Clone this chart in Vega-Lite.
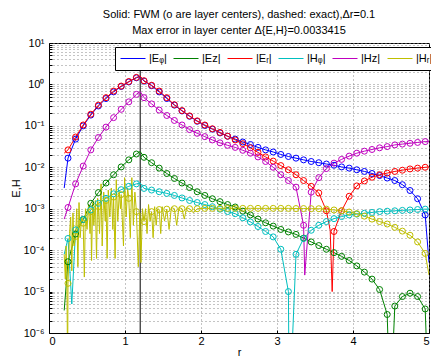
{
"$schema":"https://vega.github.io/schema/vega-lite/v6.json",
"width":380,"height":290,
"autosize":{"type":"none"},
"padding":{"left":49,"top":43,"right":2,"bottom":24},
"title":{"text":["Solid: FWM (o are layer centers), dashed: exact),Δr=0.1","Max error in layer center Δ{E,H}=0.0033415"],"fontSize":11,"fontWeight":"normal","font":"Liberation Sans","color":"black","anchor":"middle","offset":1,"lineHeight":16},
"data":{"values":[
{"s":"Ep","r":0.2,"v":3.16e-3},{"s":"Ep","r":0.25,"v":1.66e-2,"c":1},{"s":"Ep","r":0.35,"v":4.79e-2,"c":1},{"s":"Ep","r":0.45,"v":1.0e-1,"c":1},{"s":"Ep","r":0.55,"v":1.82e-1,"c":1},{"s":"Ep","r":0.65,"v":3.02e-1,"c":1},{"s":"Ep","r":0.75,"v":4.57e-1,"c":1},{"s":"Ep","r":0.85,"v":6.61e-1,"c":1},{"s":"Ep","r":0.95,"v":8.91e-1,"c":1},{"s":"Ep","r":1.05,"v":1.148,"c":1},{"s":"Ep","r":1.15,"v":1.445,"c":1},{"s":"Ep","r":1.2,"v":1.549},{"s":"Ep","r":1.25,"v":1.202,"c":1},{"s":"Ep","r":1.35,"v":0.933,"c":1},{"s":"Ep","r":1.45,"v":0.661,"c":1},{"s":"Ep","r":1.55,"v":0.457,"c":1},{"s":"Ep","r":1.65,"v":0.316,"c":1},{"s":"Ep","r":1.75,"v":0.229,"c":1},{"s":"Ep","r":1.85,"v":0.170,"c":1},{"s":"Ep","r":1.95,"v":0.129,"c":1},{"s":"Ep","r":2.05,"v":0.102,"c":1},{"s":"Ep","r":2.15,"v":8.32e-2,"c":1},{"s":"Ep","r":2.25,"v":6.76e-2,"c":1},{"s":"Ep","r":2.35,"v":5.62e-2,"c":1},{"s":"Ep","r":2.45,"v":4.79e-2,"c":1},{"s":"Ep","r":2.55,"v":4.07e-2,"c":1},{"s":"Ep","r":2.65,"v":3.55e-2,"c":1},{"s":"Ep","r":2.75,"v":3.02e-2,"c":1},{"s":"Ep","r":2.85,"v":2.63e-2,"c":1},{"s":"Ep","r":2.95,"v":2.34e-2,"c":1},{"s":"Ep","r":3.05,"v":2.04e-2,"c":1},{"s":"Ep","r":3.15,"v":1.82e-2,"c":1},{"s":"Ep","r":3.25,"v":1.66e-2,"c":1},{"s":"Ep","r":3.35,"v":1.51e-2,"c":1},{"s":"Ep","r":3.45,"v":1.38e-2,"c":1},{"s":"Ep","r":3.55,"v":1.29e-2,"c":1},{"s":"Ep","r":3.65,"v":1.20e-2,"c":1},{"s":"Ep","r":3.75,"v":1.12e-2,"c":1},{"s":"Ep","r":3.85,"v":1.02e-2,"c":1},{"s":"Ep","r":3.95,"v":9.55e-3,"c":1},{"s":"Ep","r":4.05,"v":8.71e-3,"c":1},{"s":"Ep","r":4.15,"v":7.94e-3,"c":1},{"s":"Ep","r":4.25,"v":7.08e-3,"c":1},{"s":"Ep","r":4.35,"v":6.31e-3,"c":1},{"s":"Ep","r":4.45,"v":5.50e-3,"c":1},{"s":"Ep","r":4.55,"v":4.79e-3,"c":1},{"s":"Ep","r":4.65,"v":3.80e-3,"c":1},{"s":"Ep","r":4.75,"v":2.75e-3,"c":1},{"s":"Ep","r":4.85,"v":1.74e-3,"c":1},{"s":"Ep","r":4.95,"v":7.08e-4,"c":1},{"s":"Ep","r":5.0,"v":5.01e-5},
{"s":"Ez","r":0.2,"v":3.5e-6},{"s":"Ez","r":0.25,"v":5.25e-5,"c":1},{"s":"Ez","r":0.35,"v":2.45e-4,"c":1},{"s":"Ez","r":0.45,"v":5.50e-4,"c":1},{"s":"Ez","r":0.55,"v":1.35e-3,"c":1},{"s":"Ez","r":0.65,"v":2.45e-3,"c":1},{"s":"Ez","r":0.75,"v":4.17e-3,"c":1},{"s":"Ez","r":0.85,"v":6.61e-3,"c":1},{"s":"Ez","r":0.95,"v":1.02e-2,"c":1},{"s":"Ez","r":1.05,"v":1.51e-2,"c":1},{"s":"Ez","r":1.15,"v":2.09e-2,"c":1},{"s":"Ez","r":1.2,"v":2.40e-2},{"s":"Ez","r":1.25,"v":1.74e-2,"c":1},{"s":"Ez","r":1.35,"v":1.29e-2,"c":1},{"s":"Ez","r":1.45,"v":9.55e-3,"c":1},{"s":"Ez","r":1.55,"v":7.08e-3,"c":1},{"s":"Ez","r":1.65,"v":5.37e-3,"c":1},{"s":"Ez","r":1.75,"v":4.17e-3,"c":1},{"s":"Ez","r":1.85,"v":3.24e-3,"c":1},{"s":"Ez","r":1.95,"v":2.57e-3,"c":1},{"s":"Ez","r":2.05,"v":2.09e-3,"c":1},{"s":"Ez","r":2.15,"v":1.74e-3,"c":1},{"s":"Ez","r":2.25,"v":1.48e-3,"c":1},{"s":"Ez","r":2.35,"v":1.26e-3,"c":1},{"s":"Ez","r":2.45,"v":1.10e-3,"c":1},{"s":"Ez","r":2.55,"v":8.71e-4,"c":1},{"s":"Ez","r":2.65,"v":7.08e-4,"c":1},{"s":"Ez","r":2.75,"v":5.62e-4,"c":1},{"s":"Ez","r":2.85,"v":4.57e-4,"c":1},{"s":"Ez","r":2.95,"v":3.80e-4,"c":1},{"s":"Ez","r":3.05,"v":3.16e-4,"c":1},{"s":"Ez","r":3.15,"v":2.75e-4,"c":1},{"s":"Ez","r":3.25,"v":2.40e-4,"c":1},{"s":"Ez","r":3.35,"v":1.95e-4,"c":1},{"s":"Ez","r":3.45,"v":1.58e-4,"c":1},{"s":"Ez","r":3.55,"v":1.29e-4,"c":1},{"s":"Ez","r":3.65,"v":1.05e-4,"c":1},{"s":"Ez","r":3.75,"v":8.71e-5,"c":1},{"s":"Ez","r":3.85,"v":7.08e-5,"c":1},{"s":"Ez","r":3.95,"v":5.62e-5,"c":1},{"s":"Ez","r":4.05,"v":4.17e-5,"c":1},{"s":"Ez","r":4.15,"v":2.95e-5,"c":1},{"s":"Ez","r":4.25,"v":2.00e-5,"c":1},{"s":"Ez","r":4.35,"v":1.12e-5,"c":1},{"s":"Ez","r":4.45,"v":2.8e-6,"c":1},{"s":"Ez","r":4.49,"v":1e-8},{"s":"Ez","r":4.55,"v":4.47e-6,"c":1},{"s":"Ez","r":4.65,"v":7.59e-6,"c":1},{"s":"Ez","r":4.75,"v":9.12e-6,"c":1},{"s":"Ez","r":4.85,"v":7.59e-6,"c":1},{"s":"Ez","r":4.95,"v":3.80e-6,"c":1},{"s":"Ez","r":5.0,"v":1e-8},
{"s":"Er","r":0.2,"v":2.19e-2},{"s":"Er","r":0.25,"v":2.63e-2,"c":1},{"s":"Er","r":0.35,"v":5.37e-2,"c":1},{"s":"Er","r":0.45,"v":1.05e-1,"c":1},{"s":"Er","r":0.55,"v":1.91e-1,"c":1},{"s":"Er","r":0.65,"v":3.16e-1,"c":1},{"s":"Er","r":0.75,"v":4.79e-1,"c":1},{"s":"Er","r":0.85,"v":6.92e-1,"c":1},{"s":"Er","r":0.95,"v":9.12e-1,"c":1},{"s":"Er","r":1.05,"v":1.175,"c":1},{"s":"Er","r":1.15,"v":1.479,"c":1},{"s":"Er","r":1.2,"v":1.585},{"s":"Er","r":1.25,"v":1.230,"c":1},{"s":"Er","r":1.35,"v":0.955,"c":1},{"s":"Er","r":1.45,"v":0.692,"c":1},{"s":"Er","r":1.55,"v":0.479,"c":1},{"s":"Er","r":1.65,"v":0.324,"c":1},{"s":"Er","r":1.75,"v":0.234,"c":1},{"s":"Er","r":1.85,"v":0.174,"c":1},{"s":"Er","r":1.95,"v":0.132,"c":1},{"s":"Er","r":2.05,"v":0.105,"c":1},{"s":"Er","r":2.15,"v":8.51e-2,"c":1},{"s":"Er","r":2.25,"v":6.92e-2,"c":1},{"s":"Er","r":2.35,"v":5.62e-2,"c":1},{"s":"Er","r":2.45,"v":4.57e-2,"c":1},{"s":"Er","r":2.55,"v":3.72e-2,"c":1},{"s":"Er","r":2.65,"v":2.95e-2,"c":1},{"s":"Er","r":2.75,"v":2.29e-2,"c":1},{"s":"Er","r":2.85,"v":1.78e-2,"c":1},{"s":"Er","r":2.95,"v":1.41e-2,"c":1},{"s":"Er","r":3.05,"v":1.10e-2,"c":1},{"s":"Er","r":3.15,"v":8.71e-3,"c":1},{"s":"Er","r":3.25,"v":6.61e-3,"c":1},{"s":"Er","r":3.35,"v":4.79e-3,"c":1},{"s":"Er","r":3.45,"v":3.47e-3,"c":1},{"s":"Er","r":3.55,"v":2.40e-3,"c":1},{"s":"Er","r":3.65,"v":8.91e-4,"c":1},{"s":"Er","r":3.7,"v":3.0e-4},{"s":"Er","r":3.726,"v":1.0e-5},{"s":"Er","r":3.75,"v":2.82e-4,"c":1},{"s":"Er","r":3.85,"v":8.91e-4,"c":1},{"s":"Er","r":3.95,"v":2.00e-3,"c":1},{"s":"Er","r":4.05,"v":3.55e-3,"c":1},{"s":"Er","r":4.15,"v":4.68e-3,"c":1},{"s":"Er","r":4.25,"v":5.75e-3,"c":1},{"s":"Er","r":4.35,"v":6.61e-3,"c":1},{"s":"Er","r":4.45,"v":7.24e-3,"c":1},{"s":"Er","r":4.55,"v":7.94e-3,"c":1},{"s":"Er","r":4.65,"v":8.51e-3,"c":1},{"s":"Er","r":4.75,"v":9.12e-3,"c":1},{"s":"Er","r":4.85,"v":9.55e-3,"c":1},{"s":"Er","r":4.95,"v":1.00e-2,"c":1},{"s":"Er","r":5.0,"v":1.02e-2},
{"s":"Hp","r":0.2,"v":7.94e-5},{"s":"Hp","r":0.25,"v":1.91e-4,"c":1},{"s":"Hp","r":0.3,"v":5.01e-6},{"s":"Hp","r":0.35,"v":3.09e-4,"c":1},{"s":"Hp","r":0.45,"v":5.50e-4,"c":1},{"s":"Hp","r":0.55,"v":9.33e-4,"c":1},{"s":"Hp","r":0.65,"v":1.35e-3,"c":1},{"s":"Hp","r":0.75,"v":1.78e-3,"c":1},{"s":"Hp","r":0.85,"v":2.29e-3,"c":1},{"s":"Hp","r":0.95,"v":2.88e-3,"c":1},{"s":"Hp","r":1.05,"v":3.47e-3,"c":1},{"s":"Hp","r":1.15,"v":3.98e-3,"c":1},{"s":"Hp","r":1.2,"v":4.17e-3},{"s":"Hp","r":1.25,"v":3.09e-3,"c":1},{"s":"Hp","r":1.35,"v":2.82e-3,"c":1},{"s":"Hp","r":1.45,"v":2.57e-3,"c":1},{"s":"Hp","r":1.55,"v":2.34e-3,"c":1},{"s":"Hp","r":1.65,"v":2.09e-3,"c":1},{"s":"Hp","r":1.75,"v":1.82e-3,"c":1},{"s":"Hp","r":1.85,"v":1.58e-3,"c":1},{"s":"Hp","r":1.95,"v":1.41e-3,"c":1},{"s":"Hp","r":2.05,"v":1.26e-3,"c":1},{"s":"Hp","r":2.15,"v":1.12e-3,"c":1},{"s":"Hp","r":2.25,"v":9.77e-4,"c":1},{"s":"Hp","r":2.35,"v":8.51e-4,"c":1},{"s":"Hp","r":2.45,"v":7.59e-4,"c":1},{"s":"Hp","r":2.55,"v":6.03e-4,"c":1},{"s":"Hp","r":2.65,"v":4.79e-4,"c":1},{"s":"Hp","r":2.75,"v":3.72e-4,"c":1},{"s":"Hp","r":2.85,"v":2.82e-4,"c":1},{"s":"Hp","r":2.95,"v":2.09e-4,"c":1},{"s":"Hp","r":3.05,"v":1.05e-4,"c":1},{"s":"Hp","r":3.15,"v":1.0e-5,"c":1},{"s":"Hp","r":3.162,"v":1e-8},{"s":"Hp","r":3.25,"v":7.94e-5,"c":1},{"s":"Hp","r":3.35,"v":1.91e-4,"c":1},{"s":"Hp","r":3.45,"v":3.02e-4,"c":1},{"s":"Hp","r":3.55,"v":3.98e-4,"c":1},{"s":"Hp","r":3.65,"v":4.90e-4,"c":1},{"s":"Hp","r":3.75,"v":5.75e-4,"c":1},{"s":"Hp","r":3.85,"v":6.46e-4,"c":1},{"s":"Hp","r":3.95,"v":7.08e-4,"c":1},{"s":"Hp","r":4.05,"v":7.41e-4,"c":1},{"s":"Hp","r":4.15,"v":7.76e-4,"c":1},{"s":"Hp","r":4.25,"v":8.13e-4,"c":1},{"s":"Hp","r":4.35,"v":8.51e-4,"c":1},{"s":"Hp","r":4.45,"v":8.71e-4,"c":1},{"s":"Hp","r":4.55,"v":8.91e-4,"c":1},{"s":"Hp","r":4.65,"v":9.12e-4,"c":1},{"s":"Hp","r":4.75,"v":9.33e-4,"c":1},{"s":"Hp","r":4.85,"v":9.55e-4,"c":1},{"s":"Hp","r":4.95,"v":9.77e-4,"c":1},{"s":"Hp","r":5.0,"v":9.77e-4},
{"s":"Hz","r":0.2,"v":5.62e-4},{"s":"Hz","r":0.25,"v":1.07e-3,"c":1},{"s":"Hz","r":0.35,"v":3.98e-3,"c":1},{"s":"Hz","r":0.45,"v":1.07e-2,"c":1},{"s":"Hz","r":0.55,"v":2.63e-2,"c":1},{"s":"Hz","r":0.65,"v":5.25e-2,"c":1},{"s":"Hz","r":0.75,"v":9.33e-2,"c":1},{"s":"Hz","r":0.85,"v":1.58e-1,"c":1},{"s":"Hz","r":0.95,"v":2.51e-1,"c":1},{"s":"Hz","r":1.05,"v":3.80e-1,"c":1},{"s":"Hz","r":1.15,"v":5.75e-1,"c":1},{"s":"Hz","r":1.2,"v":6.76e-1},{"s":"Hz","r":1.25,"v":4.79e-1,"c":1},{"s":"Hz","r":1.35,"v":3.39e-1,"c":1},{"s":"Hz","r":1.45,"v":2.40e-1,"c":1},{"s":"Hz","r":1.55,"v":1.78e-1,"c":1},{"s":"Hz","r":1.65,"v":1.35e-1,"c":1},{"s":"Hz","r":1.75,"v":1.05e-1,"c":1},{"s":"Hz","r":1.85,"v":8.13e-2,"c":1},{"s":"Hz","r":1.95,"v":6.61e-2,"c":1},{"s":"Hz","r":2.05,"v":5.50e-2,"c":1},{"s":"Hz","r":2.15,"v":4.57e-2,"c":1},{"s":"Hz","r":2.25,"v":3.89e-2,"c":1},{"s":"Hz","r":2.35,"v":3.39e-2,"c":1},{"s":"Hz","r":2.45,"v":3.02e-2,"c":1},{"s":"Hz","r":2.55,"v":2.57e-2,"c":1},{"s":"Hz","r":2.65,"v":2.19e-2,"c":1},{"s":"Hz","r":2.75,"v":1.78e-2,"c":1},{"s":"Hz","r":2.85,"v":1.38e-2,"c":1},{"s":"Hz","r":2.95,"v":1.00e-2,"c":1},{"s":"Hz","r":3.05,"v":6.61e-3,"c":1},{"s":"Hz","r":3.15,"v":4.79e-3,"c":1},{"s":"Hz","r":3.25,"v":3.31e-3,"c":1},{"s":"Hz","r":3.35,"v":3.98e-4,"c":1},{"s":"Hz","r":3.365,"v":2.5e-5},{"s":"Hz","r":3.45,"v":2.51e-3,"c":1},{"s":"Hz","r":3.55,"v":5.62e-3,"c":1},{"s":"Hz","r":3.65,"v":9.33e-3,"c":1},{"s":"Hz","r":3.75,"v":1.26e-2,"c":1},{"s":"Hz","r":3.85,"v":1.55e-2,"c":1},{"s":"Hz","r":3.95,"v":1.86e-2,"c":1},{"s":"Hz","r":4.05,"v":2.19e-2,"c":1},{"s":"Hz","r":4.15,"v":2.45e-2,"c":1},{"s":"Hz","r":4.25,"v":2.69e-2,"c":1},{"s":"Hz","r":4.35,"v":2.95e-2,"c":1},{"s":"Hz","r":4.45,"v":3.16e-2,"c":1},{"s":"Hz","r":4.55,"v":3.47e-2,"c":1},{"s":"Hz","r":4.65,"v":3.63e-2,"c":1},{"s":"Hz","r":4.75,"v":3.80e-2,"c":1},{"s":"Hz","r":4.85,"v":3.98e-2,"c":1},{"s":"Hz","r":4.95,"v":4.17e-2,"c":1},{"s":"Hz","r":5.0,"v":4.27e-2},
{"s":"Hr","r":0.2,"v":7.94e-5},{"s":"Hr","r":0.215,"v":2.0e-5},{"s":"Hr","r":0.225,"v":1.26e-4},{"s":"Hr","r":0.235,"v":2.51e-5},{"s":"Hr","r":0.245,"v":1e-7},{"s":"Hr","r":0.25,"v":1.58e-5,"c":1},{"s":"Hr","r":0.27,"v":2.51e-4},{"s":"Hr","r":0.285,"v":6.31e-4},{"s":"Hr","r":0.3,"v":3.16e-5},{"s":"Hr","r":0.315,"v":7.94e-4},{"s":"Hr","r":0.33,"v":1.26e-4},{"s":"Hr","r":0.35,"v":2.14e-4,"c":1},{"s":"Hr","r":0.365,"v":1.0e-3},{"s":"Hr","r":0.38,"v":3.98e-5},{"s":"Hr","r":0.395,"v":1.41e-3},{"s":"Hr","r":0.41,"v":2.0e-4},{"s":"Hr","r":0.43,"v":6.31e-4},{"s":"Hr","r":0.45,"v":4.47e-4,"c":1},{"s":"Hr","r":0.465,"v":2.24e-5},{"s":"Hr","r":0.48,"v":1.0e-3},{"s":"Hr","r":0.5,"v":3.16e-4},{"s":"Hr","r":0.52,"v":1.26e-3},{"s":"Hr","r":0.54,"v":2.51e-4},{"s":"Hr","r":0.55,"v":8.51e-4,"c":1},{"s":"Hr","r":0.56,"v":5.62e-5},{"s":"Hr","r":0.575,"v":1.41e-3},{"s":"Hr","r":0.59,"v":3.98e-4},{"s":"Hr","r":0.61,"v":1.58e-3},{"s":"Hr","r":0.625,"v":6.31e-5},{"s":"Hr","r":0.64,"v":1.78e-3},{"s":"Hr","r":0.65,"v":1.12e-3,"c":1},{"s":"Hr","r":0.665,"v":2.51e-4},{"s":"Hr","r":0.685,"v":3.98e-3},{"s":"Hr","r":0.7,"v":1.26e-4},{"s":"Hr","r":0.72,"v":2.51e-3},{"s":"Hr","r":0.74,"v":5.01e-4},{"s":"Hr","r":0.75,"v":1.58e-3,"c":1},{"s":"Hr","r":0.765,"v":6.31e-5},{"s":"Hr","r":0.78,"v":2.82e-3},{"s":"Hr","r":0.8,"v":6.31e-4},{"s":"Hr","r":0.82,"v":3.16e-3},{"s":"Hr","r":0.84,"v":3.16e-4},{"s":"Hr","r":0.85,"v":1.91e-3,"c":1},{"s":"Hr","r":0.87,"v":6.31e-5},{"s":"Hr","r":0.885,"v":5.01e-3},{"s":"Hr","r":0.905,"v":5.01e-4},{"s":"Hr","r":0.925,"v":2.51e-3},{"s":"Hr","r":0.94,"v":1.0e-3},{"s":"Hr","r":0.95,"v":2.19e-3,"c":1},{"s":"Hr","r":0.98,"v":1.26e-4},{"s":"Hr","r":0.995,"v":5.62e-3},{"s":"Hr","r":1.015,"v":6.31e-4},{"s":"Hr","r":1.035,"v":3.16e-3},{"s":"Hr","r":1.05,"v":1.78e-3,"c":1},{"s":"Hr","r":1.07,"v":2.0e-4},{"s":"Hr","r":1.09,"v":5.62e-3},{"s":"Hr","r":1.11,"v":3.98e-4},{"s":"Hr","r":1.13,"v":2.51e-3},{"s":"Hr","r":1.15,"v":8.51e-4,"c":1},{"s":"Hr","r":1.175,"v":3.98e-5},{"s":"Hr","r":1.195,"v":7.94e-4},{"s":"Hr","r":1.21,"v":5.01e-5},{"s":"Hr","r":1.23,"v":1.0e-3},{"s":"Hr","r":1.25,"v":4.90e-4,"c":1},{"s":"Hr","r":1.27,"v":1.0e-3},{"s":"Hr","r":1.29,"v":2.51e-4},{"s":"Hr","r":1.31,"v":1.26e-3},{"s":"Hr","r":1.33,"v":5.01e-4},{"s":"Hr","r":1.35,"v":8.51e-4,"c":1},{"s":"Hr","r":1.37,"v":2.0e-4},{"s":"Hr","r":1.39,"v":1.12e-3},{"s":"Hr","r":1.41,"v":3.98e-4},{"s":"Hr","r":1.43,"v":1.0e-3},{"s":"Hr","r":1.45,"v":9.55e-4,"c":1},{"s":"Hr","r":1.47,"v":2.51e-4},{"s":"Hr","r":1.49,"v":1.12e-3},{"s":"Hr","r":1.52,"v":5.01e-4},{"s":"Hr","r":1.55,"v":9.77e-4,"c":1},{"s":"Hr","r":1.58,"v":3.16e-4},{"s":"Hr","r":1.61,"v":1.07e-3},{"s":"Hr","r":1.65,"v":1.0e-3,"c":1},{"s":"Hr","r":1.68,"v":3.98e-4},{"s":"Hr","r":1.71,"v":1.07e-3},{"s":"Hr","r":1.75,"v":1.0e-3,"c":1},{"s":"Hr","r":1.78,"v":5.62e-4},{"s":"Hr","r":1.81,"v":1.05e-3},{"s":"Hr","r":1.85,"v":1.0e-3,"c":1},{"s":"Hr","r":1.9,"v":7.94e-4},{"s":"Hr","r":1.95,"v":1.0e-3,"c":1},{"s":"Hr","r":2.05,"v":1.02e-3,"c":1},{"s":"Hr","r":2.15,"v":1.02e-3,"c":1},{"s":"Hr","r":2.25,"v":1.02e-3,"c":1},{"s":"Hr","r":2.35,"v":1.02e-3,"c":1},{"s":"Hr","r":2.45,"v":1.02e-3,"c":1},{"s":"Hr","r":2.55,"v":1.02e-3,"c":1},{"s":"Hr","r":2.65,"v":1.02e-3,"c":1},{"s":"Hr","r":2.75,"v":1.02e-3,"c":1},{"s":"Hr","r":2.85,"v":1.02e-3,"c":1},{"s":"Hr","r":2.95,"v":1.02e-3,"c":1},{"s":"Hr","r":3.05,"v":1.02e-3,"c":1},{"s":"Hr","r":3.15,"v":1.02e-3,"c":1},{"s":"Hr","r":3.25,"v":1.01e-3,"c":1},{"s":"Hr","r":3.35,"v":1.01e-3,"c":1},{"s":"Hr","r":3.45,"v":1.0e-3,"c":1},{"s":"Hr","r":3.55,"v":1.0e-3,"c":1},{"s":"Hr","r":3.65,"v":9.77e-4,"c":1},{"s":"Hr","r":3.75,"v":9.33e-4,"c":1},{"s":"Hr","r":3.85,"v":8.91e-4,"c":1},{"s":"Hr","r":3.95,"v":8.32e-4,"c":1},{"s":"Hr","r":4.05,"v":7.59e-4,"c":1},{"s":"Hr","r":4.15,"v":6.61e-4,"c":1},{"s":"Hr","r":4.25,"v":5.62e-4,"c":1},{"s":"Hr","r":4.35,"v":4.90e-4,"c":1},{"s":"Hr","r":4.45,"v":4.27e-4,"c":1},{"s":"Hr","r":4.55,"v":3.55e-4,"c":1},{"s":"Hr","r":4.65,"v":2.88e-4,"c":1},{"s":"Hr","r":4.75,"v":2.29e-4,"c":1},{"s":"Hr","r":4.85,"v":1.58e-4,"c":1},{"s":"Hr","r":4.95,"v":8.32e-5,"c":1},{"s":"Hr","r":5.0,"v":2.51e-5}
]},
"layer":[
{"data":{"values":[{"r":1.2}]},"mark":{"type":"rule","color":"black","strokeWidth":1},"encoding":{"x":{"field":"r","type":"quantitative","scale":{"domain":[0,5]}}}},
{"mark":{"type":"line","strokeWidth":1,"clip":true},
 "encoding":{
  "x":{"field":"r","type":"quantitative","scale":{"domain":[0,5],"nice":false},"axis":{"title":"r","values":[0,1,2,3,4,5],"format":"d","labelPadding":5,"titlePadding":0}},
  "y":{"field":"v","type":"quantitative","scale":{"type":"log","domain":[1e-6,10],"nice":false},
   "axis":{"title":"E,H","values":[1e-6,2e-6,3e-6,4e-6,5e-6,6e-6,7e-6,8e-6,9e-6,1e-5,2e-5,3e-5,4e-5,5e-5,6e-5,7e-5,8e-5,9e-5,1e-4,2e-4,3e-4,4e-4,5e-4,6e-4,7e-4,8e-4,9e-4,1e-3,2e-3,3e-3,4e-3,5e-3,6e-3,7e-3,8e-3,9e-3,1e-2,2e-2,3e-2,4e-2,5e-2,6e-2,7e-2,8e-2,9e-2,1e-1,2e-1,3e-1,4e-1,5e-1,6e-1,7e-1,8e-1,9e-1,1,2,3,4,5,6,7,8,9,10],
   "labelExpr":"datum.value==10?'10¹':datum.value==1?'10⁰':datum.value==0.1?'10⁻¹':datum.value==0.01?'10⁻²':datum.value==0.001?'10⁻³':datum.value==0.0001?'10⁻⁴':datum.value==0.00001?'10⁻⁵':datum.value==0.000001?'10⁻⁶':''"}},
  "color":{"field":"s","type":"nominal","scale":{"domain":["Ep","Ez","Er","Hp","Hz","Hr"],"range":["#0000FF","#008000","#FF0000","#00BFBF","#BF00BF","#BFBF00"]},
   "legend":{"title":null,"orient":"none","legendX":66,"legendY":4,"direction":"horizontal","symbolType":"stroke","symbolSize":625,"symbolStrokeWidth":1,"clipHeight":13,"labelExpr":"datum.label=='Ep'?'|Eᵩ|':datum.label=='Ez'?'|Ez|':datum.label=='Er'?'|Eᵣ|':datum.label=='Hp'?'|Hᵩ|':datum.label=='Hz'?'|Hz|':'|Hᵣ|'"}},
  "order":{"field":"r","type":"quantitative"}
 }},
{"transform":[{"filter":"datum.c==1"}],
 "mark":{"type":"point","shape":"circle","filled":false,"size":36,"strokeWidth":1,"clip":true,"opacity":1},
 "encoding":{
  "x":{"field":"r","type":"quantitative"},
  "y":{"field":"v","type":"quantitative"},
  "color":{"field":"s","type":"nominal","legend":null}
 }}
],
"config":{
 "font":"Liberation Sans",
 "view":{"stroke":"black","strokeWidth":1},
 "axis":{"domainColor":"black","tickColor":"black","labelColor":"black","titleColor":"black","labelFontSize":11,"titleFontSize":11,"titleFontWeight":"normal","grid":true,"gridColor":"#888","gridDash":[1,3],"gridOpacity":1,"gridWidth":1,"tickSize":-3,"labelPadding":8,"titlePadding":2},
 "legend":{"labelFontSize":11,"labelColor":"black","strokeColor":"black","fillColor":"white","padding":5,"columnPadding":6,"labelOffset":3,"labelFont":"Liberation Sans"}
}
}
